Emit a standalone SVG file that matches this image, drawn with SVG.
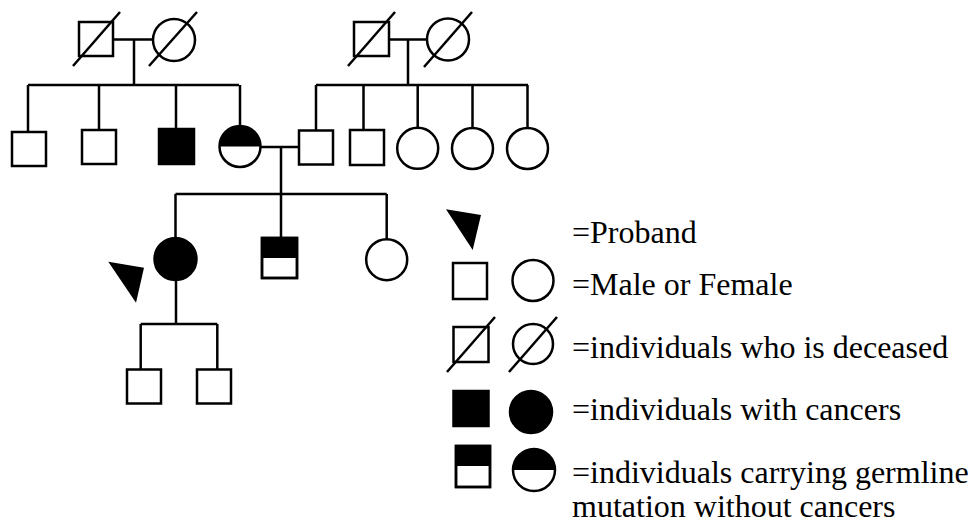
<svg xmlns="http://www.w3.org/2000/svg" width="972" height="525" viewBox="0 0 972 525">
<style>
.o{fill:#fff;stroke:#000;stroke-width:2.5}
.f{fill:#000;stroke:#000;stroke-width:2.5}
.k{fill:#000;stroke:none}
.l{fill:none;stroke:#000;stroke-width:2.5}
.t{font-family:"Liberation Serif","Times New Roman",serif;font-size:32px;fill:#000}
</style>
<rect width="972" height="525" fill="#fff"/>
<g id="connectors" class="l">
<path d="M113,39.5H153M134,39.5V85M28,85H239M28,85V132M99,85V130M176,85V129M240,85V126"/>
<path d="M389,39.5H427M408,39.5V85M316,85H528M316,85V130.5M363.5,85V130M417.7,85V128M472.5,85V128M527.5,85V128"/>
<path d="M260.5,147H299M281,147V194M175.5,194H386.7M175.5,194V238M281,194V238M386.7,194V239"/>
<path d="M176,280V324M140.7,324H217.3M140.7,324V369.5M217.3,324V369.5"/>
</g>
<g id="I1"><rect class="o" x="79" y="22" width="34" height="34"/><line class="l" x1="73" y1="66" x2="120" y2="12"/></g>
<g id="I2"><circle class="o" cx="174" cy="40" r="21"/><line class="l" x1="149" y1="66" x2="197" y2="12"/></g>
<g id="I3"><rect class="o" x="354" y="22" width="35" height="34"/><line class="l" x1="348" y1="66" x2="395" y2="12"/></g>
<g id="I4"><circle class="o" cx="448" cy="39.5" r="21"/><line class="l" x1="424" y1="67" x2="472" y2="12"/></g>
<g id="II1"><rect class="o" x="12" y="132" width="34" height="34"/></g>
<g id="II2"><rect class="o" x="82" y="130" width="34" height="34"/></g>
<g id="II3"><rect class="f" x="159" y="129" width="35" height="35"/></g>
<g id="II4"><path class="k" d="M219.5,146.5A20.5,20.5 0 0 1 260.5,146.5Z"/><circle class="l" cx="240" cy="146.5" r="20.5"/></g>
<g id="II5"><rect class="o" x="299" y="130.5" width="34" height="34"/></g>
<g id="II6"><rect class="o" x="350" y="130" width="34" height="35"/></g>
<g id="II7"><circle class="o" cx="417.7" cy="148.3" r="20.5"/></g>
<g id="II8"><circle class="o" cx="472.5" cy="148.5" r="20.5"/></g>
<g id="II9"><circle class="o" cx="527.5" cy="148.5" r="20.5"/></g>
<g id="III1"><circle class="f" cx="175.5" cy="259" r="21"/></g>
<g id="proband-arrow"><polygon class="k" points="108.3,261.7 144,267.7 136,302.7"/></g>
<g id="III2"><rect class="o" x="262" y="238" width="35" height="40"/><rect class="k" x="262" y="238" width="35" height="20"/><rect class="l" x="262" y="238" width="35" height="40"/></g>
<g id="III3"><circle class="o" cx="386.7" cy="259.7" r="20.5"/></g>
<g id="IV1"><rect class="o" x="127" y="369.5" width="34" height="34"/></g>
<g id="IV2"><rect class="o" x="197" y="369.5" width="34" height="34"/></g>
<g id="legend">
<polygon class="k" points="446,209.3 481,215 472.7,250"/>
<rect class="o" x="453" y="263" width="34" height="36"/>
<circle class="o" cx="533" cy="280.5" r="20.5"/>
<rect class="o" x="453.5" y="327" width="35" height="35"/>
<line class="l" x1="447" y1="372" x2="495" y2="317"/>
<circle class="o" cx="533" cy="344" r="20"/>
<line class="l" x1="509" y1="372" x2="557" y2="317"/>
<rect class="f" x="453.5" y="391" width="35" height="35"/>
<circle class="f" cx="531" cy="412" r="21"/>
<rect class="o" x="456" y="446" width="34" height="41"/>
<rect class="k" x="456" y="446" width="34" height="20"/>
<rect class="l" x="456" y="446" width="34" height="41"/>
<path class="k" d="M513,470A21,21 0 0 1 555,470Z"/>
<circle class="l" cx="534" cy="470" r="21"/>
<text class="t" x="572" y="243">=Proband</text>
<text class="t" x="572" y="295">=Male or Female</text>
<text class="t" x="572" y="357.5">=individuals who is deceased</text>
<text class="t" x="572" y="420">=individuals with cancers</text>
<text class="t" x="572" y="483">=individuals carrying germline</text>
<text class="t" x="572" y="517">mutation without cancers</text>
</g>
</svg>
